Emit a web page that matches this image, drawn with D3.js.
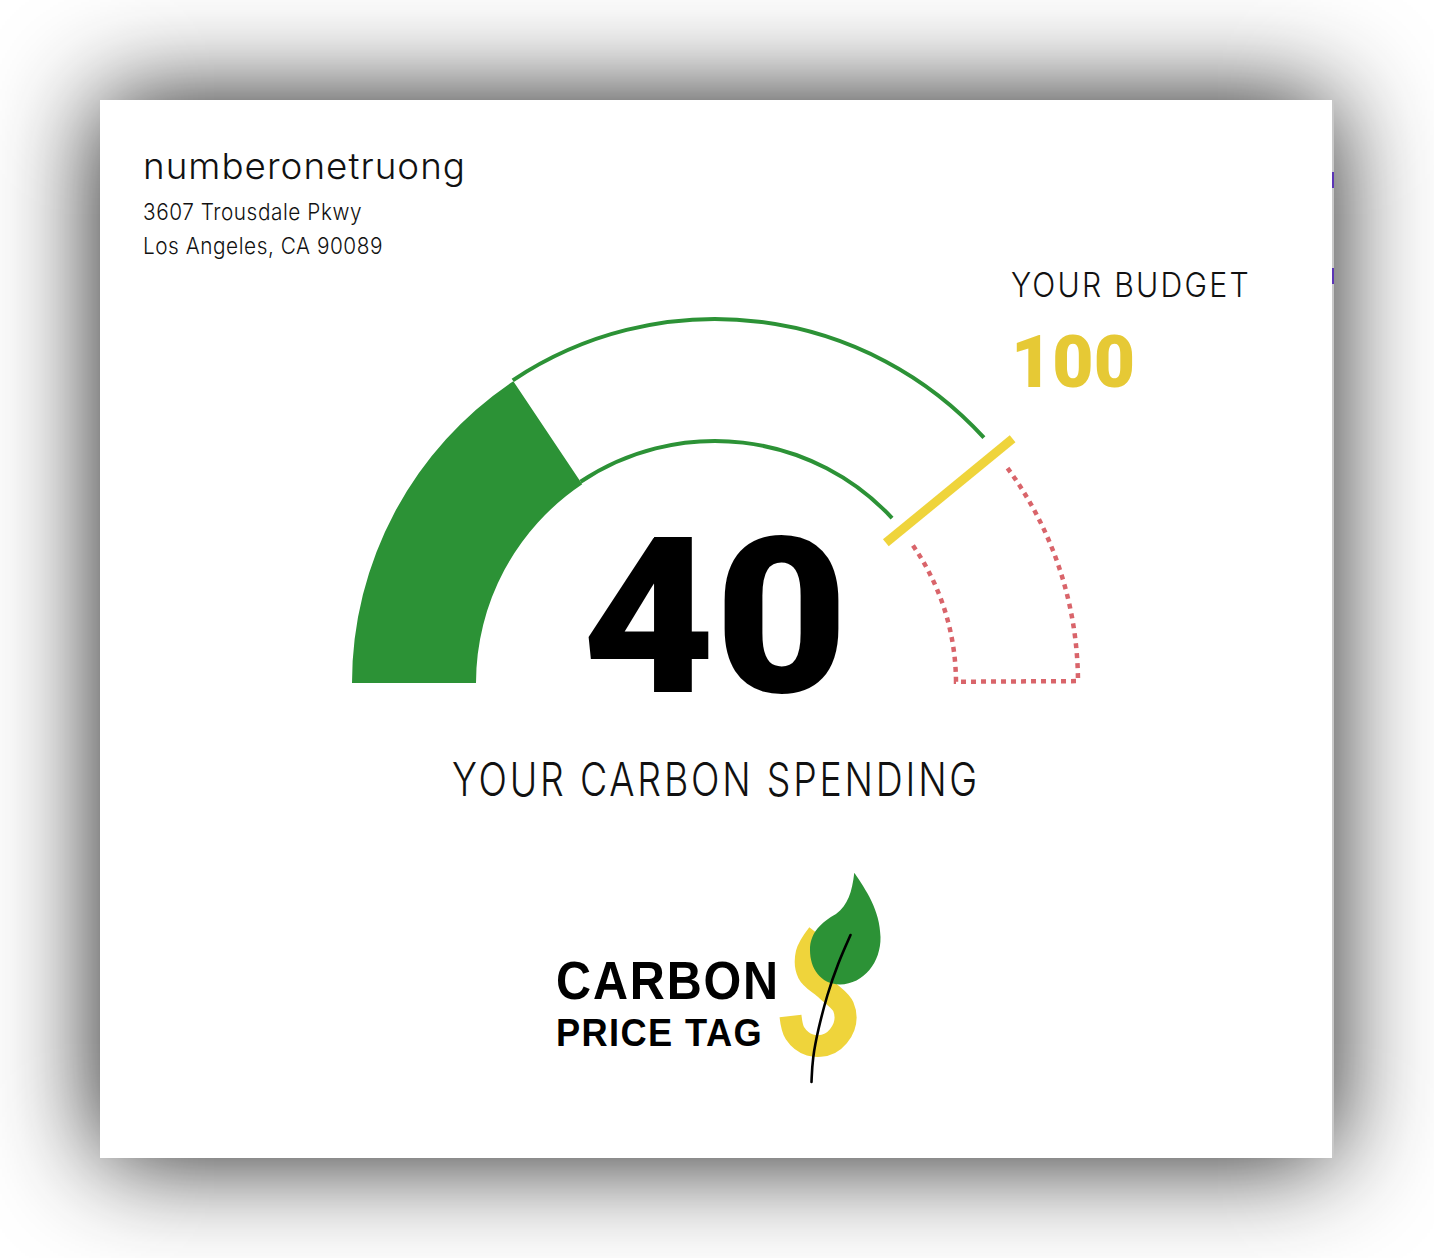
<!DOCTYPE html>
<html>
<head>
<meta charset="utf-8">
<script src="https://cdn.jsdelivr.net/npm/d3@7"></script>
<style>
  html, body { margin: 0; padding: 0; background: #ffffff; width: 1434px; height: 1258px; overflow: hidden; }
  #card { position: absolute; left: 100px; top: 100px; width: 1232px; height: 1058px; background: #fff;
          box-shadow: 0 0 100px 0 rgba(0,0,0,0.9); }
  svg { position: absolute; left: 0; top: 0; }
</style>
</head>
<body>
<div id="card"></div>
<svg id="chart" width="1434" height="1258"></svg>
<script>
// ---------- data ----------
const userName = ["numberonetruong"];
const addressLines = ["3607 Trousdale Pkwy", "Los Angeles, CA 90089"];
const spendingValue = [40];
const budgetValue = [100];
const gaugeDomain = [0, 128];
const labels = ["YOUR BUDGET", "YOUR CARBON SPENDING"];
const logoWords = ["CARBON", "PRICE TAG"];

// ---------- styles ----------
const GREEN = "#2c9236", YELLOW = "#efd43b", BUDGET_TXT = "#e6c935", RED = "#d9646a";
const LABEL_FONT = "Inter, 'Open Sans', Lato, sans-serif";
const svg = d3.select("#chart");

// right edge fragments of underlying page
svg.append("rect").attr("x", 1332).attr("y", 100).attr("width", 2).attr("height", 1058).attr("fill", "#c8c8c8");
svg.append("rect").attr("x", 1332).attr("y", 172).attr("width", 2).attr("height", 16).attr("fill", "#5b35b5");
svg.append("rect").attr("x", 1332).attr("y", 268).attr("width", 2).attr("height", 16).attr("fill", "#5b35b5");

// ---------- header ----------
const head = svg.append("g").attr("font-family", LABEL_FONT).attr("fill", "#111");
head.append("text").attr("x", 143).attr("y", 179).attr("font-size", 36).attr("font-weight", 300)
  .attr("letter-spacing", 1)
  .attr("textLength", 323).attr("lengthAdjust", "spacingAndGlyphs").text(userName[0]);
head.selectAll("text.addr").data(addressLines).join("text").attr("class", "addr")
  .attr("x", 143).attr("y", (d, i) => 220 + i * 34).attr("font-size", 23).attr("font-weight", 300)
  .attr("letter-spacing", 0.6)
  .attr("textLength", (d, i) => [219, 240][i]).attr("lengthAdjust", "spacingAndGlyphs").text(d => d);

// ---------- gauge ----------
const cx = 715, cy = 683;
const rOuter = 363, rInner = 239;
const angle = d3.scaleLinear().domain(gaugeDomain).range([-Math.PI / 2, Math.PI / 2]);
const deg = Math.PI / 180;
const g = svg.append("g").attr("transform", `translate(${cx},${cy})`);

const aSpend = angle(spendingValue[0]);
const aBudget = angle(budgetValue[0]);

// filled spending arc
g.append("path")
  .attr("d", d3.arc().innerRadius(rInner).outerRadius(rOuter).startAngle(angle(gaugeDomain[0])).endAngle(aSpend)())
  .attr("fill", GREEN);

// outline arcs of remaining budget
function arcLine(r, a0, a1) {
  const p = d3.path();
  p.arc(0, 0, r, a0 - Math.PI / 2, a1 - Math.PI / 2, a1 < a0);
  return p.toString();
}
g.append("path").attr("d", arcLine(rOuter + 1, aSpend, aBudget - 3.0 * deg))
  .attr("fill", "none").attr("stroke", GREEN).attr("stroke-width", 4);
g.append("path").attr("d", arcLine(rInner + 3, aSpend, aBudget - 3.6 * deg))
  .attr("fill", "none").attr("stroke", GREEN).attr("stroke-width", 4);

// over-budget dotted zone
(function () {
  const aEnd = angle(gaugeDomain[1]);
  const a0i = aBudget + 4.6 * deg, a0o = aBudget + 2.5 * deg;
  const ri = rInner + 2, ro = rOuter;
  const p = d3.path();
  p.moveTo(ri * Math.sin(a0i), -ri * Math.cos(a0i));
  p.arc(0, 0, ri, a0i - Math.PI / 2, aEnd - Math.PI / 2 - 0.3 * deg, false);
  p.lineTo(ro * Math.sin(aEnd - 0.3 * deg), -ro * Math.cos(aEnd - 0.3 * deg));
  p.arc(0, 0, ro, aEnd - Math.PI / 2 - 0.3 * deg, a0o - Math.PI / 2, true);
  g.append("path").attr("d", p.toString()).attr("fill", "none")
    .attr("stroke", RED).attr("stroke-width", 4.5).attr("stroke-dasharray", "5,5");
})();

// budget marker
g.append("line")
  .attr("x1", 221 * Math.sin(aBudget)).attr("y1", -221 * Math.cos(aBudget))
  .attr("x2", 385 * Math.sin(aBudget)).attr("y2", -385 * Math.cos(aBudget))
  .attr("stroke", YELLOW).attr("stroke-width", 9);

// big spending number
svg.append("text").attr("x", 582).attr("y", 692)
  .attr("font-family", "Roboto, Lato, sans-serif").attr("font-weight", 900).attr("font-size", 218)
  .attr("textLength", 266).attr("lengthAdjust", "spacingAndGlyphs").attr("fill", "#000")
  .text(spendingValue[0]);

// budget label and value
svg.append("text").attr("x", 1011).attr("y", 297).attr("font-family", LABEL_FONT)
  .attr("font-weight", 300).attr("font-size", 34).attr("fill", "#111").attr("letter-spacing", 2.5)
  .attr("textLength", 240).attr("lengthAdjust", "spacingAndGlyphs").text(labels[0]);
svg.append("text").attr("x", 1011).attr("y", 387).attr("font-family", "Roboto, Lato, sans-serif")
  .attr("font-weight", 900).attr("font-size", 72).attr("fill", BUDGET_TXT)
  .attr("textLength", 124).attr("lengthAdjust", "spacingAndGlyphs").text(budgetValue[0]);

// spending label
svg.append("text").attr("x", 452).attr("y", 796).attr("font-family", LABEL_FONT)
  .attr("font-weight", 300).attr("font-size", 47).attr("fill", "#111").attr("letter-spacing", 3.5)
  .attr("textLength", 528).attr("lengthAdjust", "spacingAndGlyphs").text(labels[1]);

// ---------- logo ----------
const logo = svg.append("g");
const sLine = d3.line().curve(d3.curveCatmullRom.alpha(0.5));
logo.append("path")
  .attr("d", sLine([[818, 934], [806.7, 953.3], [808.3, 973.3], [826.7, 990], [843.3, 1006.7],
                    [844, 1026.7], [830, 1043.3], [810, 1045], [795, 1033.3], [790.5, 1016]]))
  .attr("fill", "none").attr("stroke", YELLOW).attr("stroke-width", 22).attr("stroke-linecap", "butt");

const leaf = d3.path();
leaf.moveTo(854.3, 872.7);
leaf.bezierCurveTo(866, 890, 880, 910, 880.5, 937);
leaf.bezierCurveTo(881, 962, 864, 984, 840, 984.5);
leaf.bezierCurveTo(820, 984, 810, 968, 810, 950);
leaf.bezierCurveTo(810, 932, 822, 922, 836, 914);
leaf.bezierCurveTo(848, 905, 852, 892, 854.3, 872.7);
leaf.closePath();
logo.append("path").attr("d", leaf.toString()).attr("fill", GREEN);

logo.append("path")
  .attr("d", d3.line().curve(d3.curveBasis)([[850.5, 935], [838, 963], [827, 995], [818, 1030], [812.5, 1058], [811.5, 1082]]))
  .attr("fill", "none").attr("stroke", "#000").attr("stroke-width", 2.6).attr("stroke-linecap", "round");

const LOGO_FONT = "'Liberation Sans', Arial, sans-serif";
logo.append("text").attr("x", 556).attr("y", 998.5).attr("font-family", LOGO_FONT)
  .attr("font-weight", 700).attr("fill", "#000").attr("font-size", 53.5).attr("letter-spacing", 2)
  .attr("textLength", 224).attr("lengthAdjust", "spacingAndGlyphs").text(logoWords[0]);
logo.append("text").attr("x", 556).attr("y", 1046).attr("font-family", LOGO_FONT)
  .attr("font-weight", 700).attr("fill", "#000").attr("font-size", 39.5).attr("letter-spacing", 1.5)
  .attr("textLength", 207).attr("lengthAdjust", "spacingAndGlyphs").text(logoWords[1]);
</script>
</body>
</html>
